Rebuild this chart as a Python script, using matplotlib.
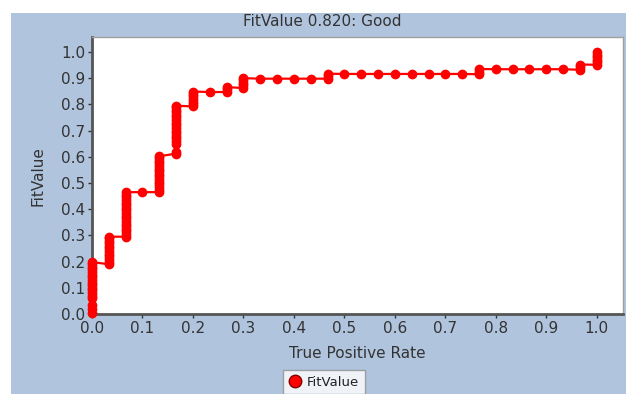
import matplotlib
matplotlib.use("Agg")
import matplotlib.pyplot as plt
from matplotlib.patches import Rectangle

# True positive rate levels and the FitValue points observed at each level
tpr_levels = [0.0, 0.0333, 0.0667, 0.1, 0.1333, 0.1667, 0.2, 0.2333, 0.2667, 0.3,
              0.3333, 0.3667, 0.4, 0.4333, 0.4667, 0.5, 0.5333, 0.5667, 0.6, 0.6333,
              0.6667, 0.7, 0.7333, 0.7667, 0.8, 0.8333, 0.8667, 0.9, 0.9333, 0.9667, 1.0]

fit_at_level = [
    [0.005, 0.02, 0.035, 0.06, 0.07, 0.08, 0.09, 0.10, 0.11, 0.12, 0.13, 0.14,
     0.15, 0.16, 0.17, 0.18, 0.19, 0.198],
    [0.19, 0.20, 0.21, 0.22, 0.23, 0.24, 0.25, 0.26, 0.27, 0.28, 0.29, 0.295],
    [0.295, 0.305, 0.315, 0.325, 0.335, 0.345, 0.355, 0.365, 0.375, 0.385, 0.395,
     0.405, 0.415, 0.425, 0.435, 0.445, 0.455, 0.465],
    [0.465],
    [0.465, 0.475, 0.485, 0.495, 0.505, 0.515, 0.525, 0.535, 0.545, 0.555, 0.565,
     0.575, 0.585, 0.595, 0.602],
    [0.612, 0.618, 0.65, 0.66, 0.67, 0.68, 0.69, 0.70, 0.71, 0.72, 0.73, 0.74,
     0.75, 0.76, 0.77, 0.78, 0.79, 0.795],
    [0.792, 0.80, 0.81, 0.82, 0.83, 0.84, 0.849],
    [0.847],
    [0.847, 0.857, 0.866],
    [0.862, 0.872, 0.882, 0.892, 0.90],
    [0.898],
    [0.898],
    [0.898],
    [0.898],
    [0.898, 0.907, 0.917],
    [0.916],
    [0.916],
    [0.916],
    [0.916],
    [0.916],
    [0.916],
    [0.916],
    [0.916],
    [0.915, 0.925, 0.935],
    [0.934],
    [0.934],
    [0.934],
    [0.934],
    [0.934],
    [0.932, 0.942, 0.952],
    [0.951, 0.96, 0.97, 0.98, 0.99, 1.0],
]

tick_values = [0.0, 0.1, 0.2, 0.3, 0.4, 0.5, 0.6, 0.7, 0.8, 0.9, 1.0]

tpr = []
fit = []
for level, values in zip(tpr_levels, fit_at_level):
    for v in values:
        tpr.append(level)
        fit.append(v)

W, H = 626, 394
fig = plt.figure(figsize=(W / 100, H / 100), dpi=100, facecolor="white")

# panel background, kept underneath the axes
fig.patches.append(Rectangle((11 / W, 0), 1 - 11 / W, 1 - 13 / H,
                             transform=fig.transFigure, facecolor="#b0c4de",
                             edgecolor="none", zorder=-10))

ax = fig.add_axes([92 / W, 1 - 314 / H, (623 - 92) / W, (314 - 37) / H])
ax.set_facecolor("white")

ax.plot(tpr, fit, color="#ff0000", lw=1.6, marker="o", ms=6,
        mfc="#ff0000", mec="#ff0000", label="FitValue", clip_on=False, zorder=3)

ax.set_xlim(0, 1.052)
ax.set_ylim(0, 1.057)
ax.set_xticks(tick_values)
ax.set_yticks(tick_values)
ax.set_xticklabels([f"{t:.1f}" for t in tick_values])
ax.set_yticklabels([f"{t:.1f}" for t in tick_values])
ax.tick_params(direction="out", length=3, width=1, color="#333333",
               labelcolor="#333333", labelsize=11, pad=2)

for side in ("left", "bottom"):
    ax.spines[side].set_color("#555555")
    ax.spines[side].set_linewidth(2)
for side in ("top", "right"):
    ax.spines[side].set_color("#a0a0a0")
    ax.spines[side].set_linewidth(1)

ax.set_xlabel("True Positive Rate", fontsize=11, color="#333333", labelpad=7)

fig.text(38 / W, 1 - 176 / H, "FitValue", rotation=90, fontsize=11,
         color="#333333", ha="center", va="center")
fig.text(322 / W, 1 - 21 / H, "FitValue 0.820: Good", fontsize=11,
         color="#333333", ha="center", va="center")

leg = fig.legend(loc="center", bbox_to_anchor=(324 / W, 1 - 382 / H),
                 frameon=True, fancybox=False, fontsize=9.5, handlelength=0.9,
                 handletextpad=0.5, borderpad=0.4, borderaxespad=0)
leg.get_frame().set_edgecolor("#909090")
leg.get_frame().set_linewidth(1)
for t in leg.get_texts():
    t.set_color("#222222")
for h in leg.legend_handles:
    h.set_linestyle("none")
    h.set_markersize(9)
    h.set_markeredgecolor("#800000")

fig.savefig("out.png", dpi=100, facecolor="white")
